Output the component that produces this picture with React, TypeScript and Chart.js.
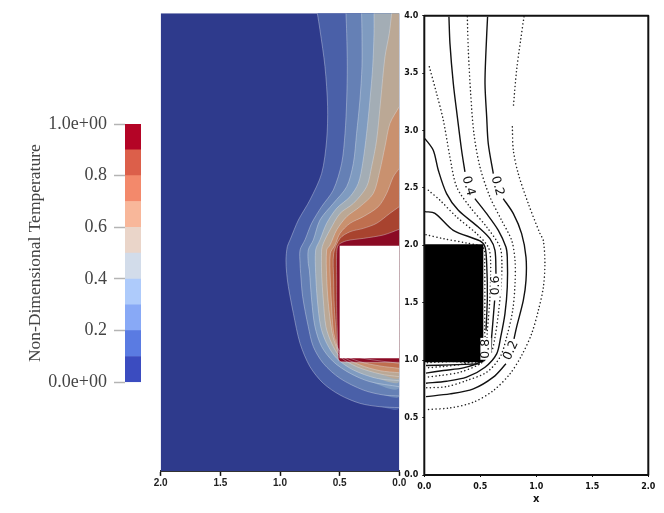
import React, { useEffect, useRef } from "react";
import { Chart, registerables } from "chart.js";

Chart.register(...registerables);

type Pair = number[];

// ---------- colour bar ----------
const barLabels = [""];
const barBandValues = [0.1, 0.1, 0.1, 0.1, 0.1, 0.1, 0.1, 0.1, 0.1, 0.1];
const barBandColors = ["#3b4cc0", "#5a7be2", "#88a9f6", "#aecbfb", "#d2dcea", "#ead5c9", "#f8b79a", "#f3896b", "#dc5f4a", "#b40426"];
const barTitle = "Non-Dimensional Temperature";

// ---------- left panel (ParaView-like filled contours) ----------
const yTop = 4.064;
const fieldColor = "#2e3a8c";
const bandColors = ["#4a60a8", "#6580b5", "#7f9bc0", "#a3adb5", "#bba895", "#c9916f", "#bf6f4f", "#a8432f", "#8b0a24"];
const contour1: Pair[] = [[.687,4.064],[.665,3.916],[.623,3.59],[.601,3.235],[.609,2.939],[.651,2.642],[.749,2.406],[.846,2.228],[.916,2.051],[.939,1.991],[.95,1.873],[.944,1.754],[.93,1.636],[.888,1.399],[.832,1.133],[.749,.926],[.637,.778],[.497,.674],[.33,.6],[.162,.57],[0,.562]];
const contour2: Pair[] = [[.447,4.064],[.441,3.886],[.436,3.59],[.441,3.294],[.455,2.998],[.483,2.732],[.553,2.495],[.651,2.347],[.735,2.199],[.791,2.051],[.832,1.962],[.832,1.843],[.827,1.754],[.81,1.547],[.763,1.281],[.721,1.104],[.637,.955],[.497,.822],[.302,.718],[.134,.674],[0,.665]];
const contour3: Pair[] = [[.316,4.064],[.313,3.886],[.313,3.59],[.33,3.294],[.358,2.998],[.385,2.732],[.441,2.524],[.553,2.376],[.665,2.228],[.721,2.051],[.763,1.962],[.763,1.843],[.754,1.784],[.735,1.518],[.707,1.281],[.651,1.104],[.553,.97],[.413,.867],[.246,.792],[0,.748]];
const contour4: Pair[] = [[.212,4.064],[.212,3.886],[.223,3.59],[.246,3.294],[.274,2.998],[.307,2.732],[.344,2.554],[.413,2.436],[.525,2.332],[.609,2.199],[.665,2.051],[.701,1.962],[.701,1.754],[.687,1.518],[.659,1.281],[.609,1.133],[.525,1],[.385,.896],[.19,.822],[0,.801]];
const contour5: Pair[] = [[.064,4.064],[.084,3.886],[.12,3.679],[.156,3.294],[.19,2.939],[.232,2.702],[.274,2.524],[.385,2.376],[.497,2.287],[.581,2.14],[.637,2.021],[.651,1.962],[.651,1.754],[.637,1.518],[.615,1.281],[.567,1.133],[.497,1.015],[.358,.926],[.162,.861],[0,.837]];
const contour6: Pair[] = [[0,3.235],[.078,3.087],[.12,2.88],[.162,2.672],[.218,2.465],[.33,2.347],[.441,2.258],[.525,2.14],[.581,2.006],[.609,1.962],[.609,1.725],[.595,1.488],[.567,1.251],[.539,1.133],[.492,1.029],[.33,.941],[.162,.89],[0,.872]];
const contour7: Pair[] = [[0,2.687],[.05,2.613],[.106,2.465],[.176,2.347],[.302,2.258],[.413,2.199],[.497,2.11],[.539,2.006],[.578,1.932],[.578,1.695],[.567,1.459],[.553,1.251],[.525,1.118],[.492,1.044],[.33,.97],[.162,.932],[0,.911]];
const contour8: Pair[] = [[0,2.347],[.078,2.288],[.19,2.199],[.302,2.154],[.413,2.124],[.497,2.065],[.55,1.932],[.55,1.695],[.545,1.459],[.531,1.251],[.52,1.104],[.492,1.059],[.302,1],[0,.955]];
const contour9: Pair[] = [[0,2.146],[.134,2.095],[.302,2.065],[.441,2.044],[.511,2.006],[.525,1.932],[.525,1.695],[.525,1.459],[.52,1.251],[.511,.999],[.492,.97],[0,.964]];
const contours = [contour1, contour2, contour3, contour4, contour5, contour6, contour7, contour8, contour9];
const contoursFromTop = 5; // the first five contours leave through the top edge
const leftBlock: Pair[] = [[0,2],[.5,2],[.5,1],[0,1]];
const leftTicks = [0, 0.5, 1, 1.5, 2];

// ---------- right panel (scanned line contours) ----------
const dotted01: Pair[] = [[.89,3.991],[.86,3.788],[.824,3.526],[.795,3.206]];
const dotted01b: Pair[] = [[.786,3.032],[.795,2.828],[.839,2.625],[.929,2.363],[1.033,2.102],[1.063,2.042],[1.077,1.84],[1.063,1.637],[1.018,1.433],[.958,1.23],[.869,1.041],[.765,.881],[.616,.735],[.438,.634],[.229,.584],[.015,.57]];
const dotted03: Pair[] = [[.384,3.991],[.393,3.701],[.414,3.323],[.443,2.974],[.497,2.683],[.586,2.422],[.69,2.218],[.78,2.044],[.81,1.869],[.81,1.666],[.789,1.433],[.735,1.201],[.676,1.026],[.557,.895],[.378,.823],[.199,.77],[.015,.759]];
const dotted05: Pair[] = [[.045,3.555],[.11,3.323],[.17,3.09],[.229,2.77],[.289,2.509],[.408,2.334],[.557,2.16],[.676,1.985],[.693,1.84],[.685,1.637],[.661,1.404],[.631,1.201],[.592,1.055],[.497,.968],[.318,.895],[.14,.866],[.015,.852]];
const dotted07: Pair[] = [[.036,2.48],[.14,2.393],[.289,2.247],[.467,2.102],[.571,1.985],[.592,1.869],[.586,1.549],[.563,1.259],[.55,1.113],[.497,1.026],[.348,.968],[.17,.945],[.015,.933]];
const dotted09: Pair[] = [[.015,2.093],[.17,2.058],[.378,2.02],[.527,1.977],[.539,1.84],[.539,1.259],[.533,.997],[.229,.988],[.015,.977]];
const dottedLines = [dotted01, dotted01b, dotted03, dotted05, dotted07, dotted09];

const solid02a: Pair[] = [[.565,3.991],[.551,3.701],[.542,3.41],[.557,3.119],[.571,2.887],[.616,2.625]];
const solid02b: Pair[] = [[.705,2.407],[.795,2.276],[.869,2.102],[.908,1.898],[.908,1.695],[.884,1.52],[.824,1.288],[.801,1.186]];
const solid02c: Pair[] = [[.729,.968],[.616,.852],[.438,.75],[.229,.706],[.015,.683]];
const solid04a: Pair[] = [[.22,3.991],[.229,3.759],[.259,3.41],[.295,3.119],[.333,2.828],[.363,2.639]];
const solid04b: Pair[] = [[.452,2.407],[.557,2.276],[.661,2.131],[.729,1.985],[.741,1.898],[.741,1.637],[.72,1.404],[.682,1.201],[.646,1.055],[.542,.939],[.378,.852],[.199,.817],[.015,.799]];
const solid06a: Pair[] = [[.006,2.93],[.08,2.828],[.125,2.654],[.199,2.451],[.304,2.305],[.482,2.16],[.586,2.058],[.631,1.956],[.64,1.753]];
const solid06b: Pair[] = [[.628,1.52],[.601,1.201],[.586,1.055],[.497,.983],[.348,.933],[.17,.91],[.015,.887]];
const solid08a: Pair[] = [[.006,2.294],[.095,2.279],[.259,2.131],[.497,2.038],[.542,1.985],[.557,1.84],[.563,1.549],[.551,1.259]];
const solid08b: Pair[] = [[.497,.968],[.229,.959],[.015,.953]];
const solidLines = [solid02a, solid02b, solid02c, solid04a, solid04b, solid06a, solid06b, solid08a, solid08b];

const rightBlock: Pair[] = [[0,2.009],[.527,2.009],[.527,.983],[0,.983]];
const rightFrame: Pair[] = [[0,0],[0,4],[2,4],[2,0],[0,0]];
const lineLabels = ["0.4", "0.2", "0.6", "0.8", "0.2"];
const lineLabelX = [.393, .652, .64, .55, .774];
const lineLabelY = [2.517, 2.517, 1.651, 1.099, 1.084];
const lineLabelAngle = [75, 75, -90, -90, -65];

const pts = (p: Pair[]) => p.map(([x, y]) => ({ x, y }));
const noPad = (s: any) => { s.paddingLeft = 0; s.paddingRight = 0; s.paddingTop = 0; s.paddingBottom = 0; };

function polygon(p: Pair[], color: string, tension = 0) {
  return { data: pts(p), showLine: true, fill: "shape", backgroundColor: color, borderWidth: 0, pointRadius: 0, tension };
}
function stroke(p: Pair[], color: string, width: number, dash: number[] = [], tension = 0.3) {
  return { data: pts(p), showLine: true, fill: false, borderColor: color, borderWidth: width, borderDash: dash, borderCapStyle: dash.length ? "round" : "butt", borderJoinStyle: "round", pointRadius: 0, tension };
}

const baseOptions: any = {
  responsive: false,
  animation: false,
  events: [],
  plugins: { legend: { display: false }, tooltip: { enabled: false } },
};

export default function App() {
  const barRef = useRef<HTMLCanvasElement>(null);
  const leftRef = useRef<HTMLCanvasElement>(null);
  const rightRef = useRef<HTMLCanvasElement>(null);

  useEffect(() => {
    // Colour bar
    const bar = new Chart(barRef.current!, {
      type: "bar",
      data: {
        labels: barLabels,
        datasets: barBandValues.map((v, i) => ({ data: [v], backgroundColor: barBandColors[i], barPercentage: 1, categoryPercentage: 1, stack: "s" })),
      },
      options: {
        ...baseOptions,
        layout: { padding: { top: 24, bottom: 17.7, left: 0, right: 0 } },
        scales: {
          x: { display: false, stacked: true },
          y: {
            stacked: true, min: 0, max: 1,
            afterFit: (s: any) => { s.width = 100; noPad(s); },
            border: { display: false },
            grid: { drawOnChartArea: false, drawTicks: true, tickLength: 11, tickWidth: 1.5, tickColor: "#b4b4b4" },
            ticks: {
              stepSize: 0.2, padding: 7, color: "#444",
              font: { family: "'Liberation Serif'", size: 18 },
              callback: (v: any) => (v === 1 ? "1.0e+00" : v === 0 ? "0.0e+00" : Number(v).toFixed(1)),
            },
            title: { display: true, text: barTitle, color: "#444", padding: 0, font: { family: "'Liberation Serif'", size: 17.5 } },
          },
        },
      },
    } as any);

    // Left panel. The first dataset is painted last.
    const fills = contours.map((c, i) => polygon(i < contoursFromTop ? [...c, [0, yTop]] : c, bandColors[i], 0.3));
    const lines = contours.map((c) => stroke(c, "rgba(225,230,240,0.42)", 0.9));
    const left = new Chart(leftRef.current!, {
      type: "scatter",
      data: {
        datasets: [
          polygon(leftBlock, "#ffffff"),
          ...lines,
          ...fills.slice().reverse(),
          polygon([[0, 0], [2, 0], [2, yTop], [0, yTop]], fieldColor),
        ],
      },
      options: {
        ...baseOptions,
        layout: { padding: { top: 13.3, bottom: 4.1, left: 20.7, right: 20.7 } },
        scales: {
          x: {
            type: "linear", reverse: true, min: 0, max: 2,
            afterFit: (s: any) => { s.height = 25; noPad(s); },
            afterBuildTicks: (s: any) => { s.ticks = leftTicks.map((value) => ({ value })); },
            border: { display: true, color: "#333", width: 2 },
            grid: { drawOnChartArea: false, drawTicks: true, tickLength: 5, tickWidth: 1.5, tickColor: "#111" },
            ticks: { color: "#222", padding: 1, maxRotation: 0, font: { family: "'Liberation Sans'", size: 10, weight: "bold" }, callback: (v: any) => Number(v).toFixed(1) },
          },
          y: { type: "linear", display: false, min: 0, max: yTop },
        },
      },
    } as any);

    // Right panel
    const labelPlugin = {
      id: "lineLabels",
      afterDatasetsDraw(chart: any) {
        const { ctx, scales } = chart;
        ctx.save();
        ctx.font = "500 12.5px 'DejaVu Sans'";
        ctx.textAlign = "center";
        ctx.textBaseline = "middle";
        lineLabels.forEach((t, i) => {
          ctx.save();
          ctx.translate(scales.x.getPixelForValue(lineLabelX[i]), scales.y.getPixelForValue(lineLabelY[i]));
          ctx.rotate((lineLabelAngle[i] * Math.PI) / 180);
          const w = ctx.measureText(t).width + 2;
          ctx.fillStyle = "#fff";
          ctx.fillRect(-w / 2, -5.5, w, 11);
          ctx.fillStyle = "#111";
          ctx.fillText(t, 0, 0);
          ctx.restore();
        });
        ctx.restore();
      },
    };
    const right = new Chart(rightRef.current!, {
      type: "scatter",
      data: {
        datasets: [
          { ...stroke(rightFrame, "#111", 2, [], 0), clip: 4 },
          polygon(rightBlock, "#000000"),
          ...solidLines.map((l) => stroke(l, "#111", 1.4)),
          ...dottedLines.map((l) => stroke(l, "#222", 1.5, [0.1, 3.6])),
        ],
      },
      options: {
        ...baseOptions,
        layout: { padding: { top: 15.7, bottom: 8, left: 0, right: 15.7 } },
        scales: {
          x: {
            type: "linear", min: 0, max: 2,
            afterFit: (s: any) => { s.height = 30; noPad(s); },
            border: { display: false },
            grid: { drawOnChartArea: false, drawTicks: true, tickLength: 2, tickWidth: 1, tickColor: "#111" },
            ticks: { stepSize: 0.5, color: "#111", padding: 5, maxRotation: 0, font: { family: "'DejaVu Sans'", size: 8, weight: "bold" }, callback: (v: any) => Number(v).toFixed(1) },
            title: { display: true, text: "x", color: "#111", padding: { top: 3, bottom: 0 }, font: { family: "'DejaVu Sans'", size: 10, weight: "bold" } },
          },
          y: {
            type: "linear", min: 0, max: 4,
            afterFit: (s: any) => { s.width = 29.3; noPad(s); },
            border: { display: false },
            grid: { drawOnChartArea: false, drawTicks: true, tickLength: 2, tickWidth: 1, tickColor: "#111" },
            ticks: { stepSize: 0.5, color: "#111", padding: 4, font: { family: "'DejaVu Sans'", size: 8, weight: "bold" }, callback: (v: any) => Number(v).toFixed(1) },
          },
        },
      },
      plugins: [labelPlugin],
    } as any);

    return () => { bar.destroy(); left.destroy(); right.destroy(); };
  }, []);

  const abs = (l: number, t: number): React.CSSProperties => ({ position: "absolute", left: l, top: t, filter: "blur(0.4px)" });
  return (
    <div style={{ position: "fixed", left: 0, top: 0, width: 664, height: 513, background: "#fff", overflow: "hidden" }}>
      <canvas ref={barRef} width={116} height={300} style={abs(25, 100)} />
      <canvas ref={leftRef} width={280} height={500} style={abs(140, 0)} />
      <canvas ref={rightRef} width={269} height={513} style={abs(395, 0)} />
    </div>
  );
}
